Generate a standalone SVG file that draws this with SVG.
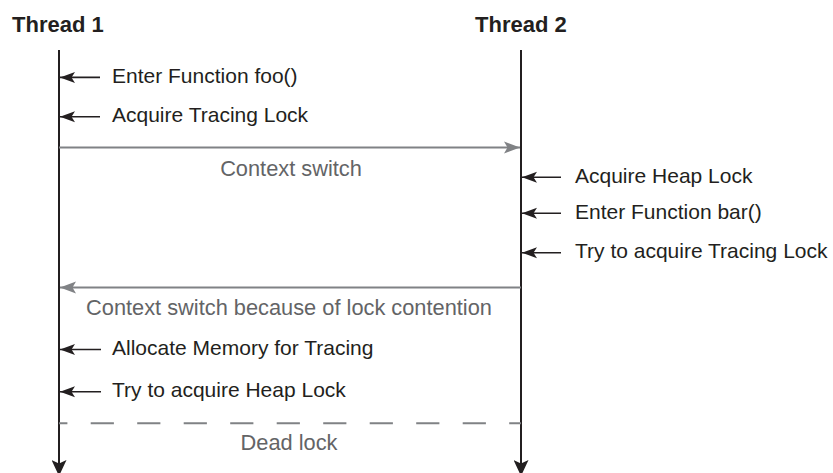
<svg xmlns="http://www.w3.org/2000/svg" width="833" height="473" viewBox="0 0 833 473">
<style>
.title{font-family:"Liberation Sans",Arial,sans-serif;font-weight:bold;font-size:22px;fill:#231f20}
.lbl{font-family:"Liberation Sans",Arial,sans-serif;font-size:21px;fill:#231f20}
.glbl{font-family:"Liberation Sans",Arial,sans-serif;font-size:21.8px;fill:#636466;text-anchor:middle}
.life{stroke:#231f20;stroke-width:2;fill:none}
.act{stroke:#231f20;stroke-width:1.6;fill:none}
.sw{stroke:#808285;stroke-width:2;fill:none}
.dash{stroke:#808285;stroke-width:2;fill:none;stroke-dasharray:23.2 23.3;stroke-dashoffset:14.8}
</style>
<defs>
<marker id="ah" markerUnits="userSpaceOnUse" viewBox="0 0 15 12" refX="15" refY="6" markerWidth="15" markerHeight="12" orient="auto">
<path d="M0,0.5 L15,6 L0,11.5 L3.5,6 Z" fill="#231f20"/>
</marker>
<marker id="gh" markerUnits="userSpaceOnUse" viewBox="0 0 16 13" refX="16" refY="6.5" markerWidth="16" markerHeight="13" orient="auto">
<path d="M0,0.5 L16,6.5 L0,12.5 L3.5,6.5 Z" fill="#808285"/>
</marker>
<marker id="lh" markerUnits="userSpaceOnUse" viewBox="0 0 16 15" refX="16" refY="7.5" markerWidth="16" markerHeight="15" orient="auto">
<path d="M0,0 L16,7.5 L0,15 L3.5,7.5 Z" fill="#231f20"/>
</marker>
</defs>
<g id="thread1">
<text class="title" x="12" y="32">Thread 1</text>
<line class="life" x1="59" y1="50" x2="59" y2="476" marker-end="url(#lh)"/>
</g>
<g id="thread2">
<text class="title" x="475" y="32">Thread 2</text>
<line class="life" x1="521" y1="50" x2="521" y2="476" marker-end="url(#lh)"/>
</g>
<g id="connectors">
<line class="act" x1="100" y1="77.4" x2="60" y2="77.4" marker-end="url(#ah)"/>
<line class="act" x1="100" y1="116.7" x2="60" y2="116.7" marker-end="url(#ah)"/>
<line class="sw" x1="59" y1="147.5" x2="520" y2="147.5" marker-end="url(#gh)"/>
<line class="act" x1="561" y1="177.3" x2="522" y2="177.3" marker-end="url(#ah)"/>
<line class="act" x1="561" y1="213.3" x2="522" y2="213.3" marker-end="url(#ah)"/>
<line class="act" x1="561" y1="252.7" x2="522" y2="252.7" marker-end="url(#ah)"/>
<line class="sw" x1="521" y1="287.5" x2="60" y2="287.5" marker-end="url(#gh)"/>
<line class="act" x1="101" y1="349.5" x2="60" y2="349.5" marker-end="url(#ah)"/>
<line class="act" x1="101" y1="391.7" x2="60" y2="391.7" marker-end="url(#ah)"/>
<line class="dash" x1="59" y1="423.3" x2="521" y2="423.3"/>
</g>
<g id="labels">
<text class="lbl" x="112" y="82.8">Enter Function foo()</text>
<text class="lbl" x="112" y="122.2">Acquire Tracing Lock</text>
<text class="glbl" x="291" y="176">Context switch</text>
<text class="lbl" x="575" y="182.8">Acquire Heap Lock</text>
<text class="lbl" x="575" y="218.8">Enter Function bar()</text>
<text class="lbl" x="575" y="258.2">Try to acquire Tracing Lock</text>
<text class="glbl" x="289" y="315">Context switch because of lock contention</text>
<text class="lbl" x="112" y="355">Allocate Memory for Tracing</text>
<text class="lbl" x="112" y="397.2">Try to acquire Heap Lock</text>
<text class="glbl" x="289" y="450">Dead lock</text>
</g>
</svg>
